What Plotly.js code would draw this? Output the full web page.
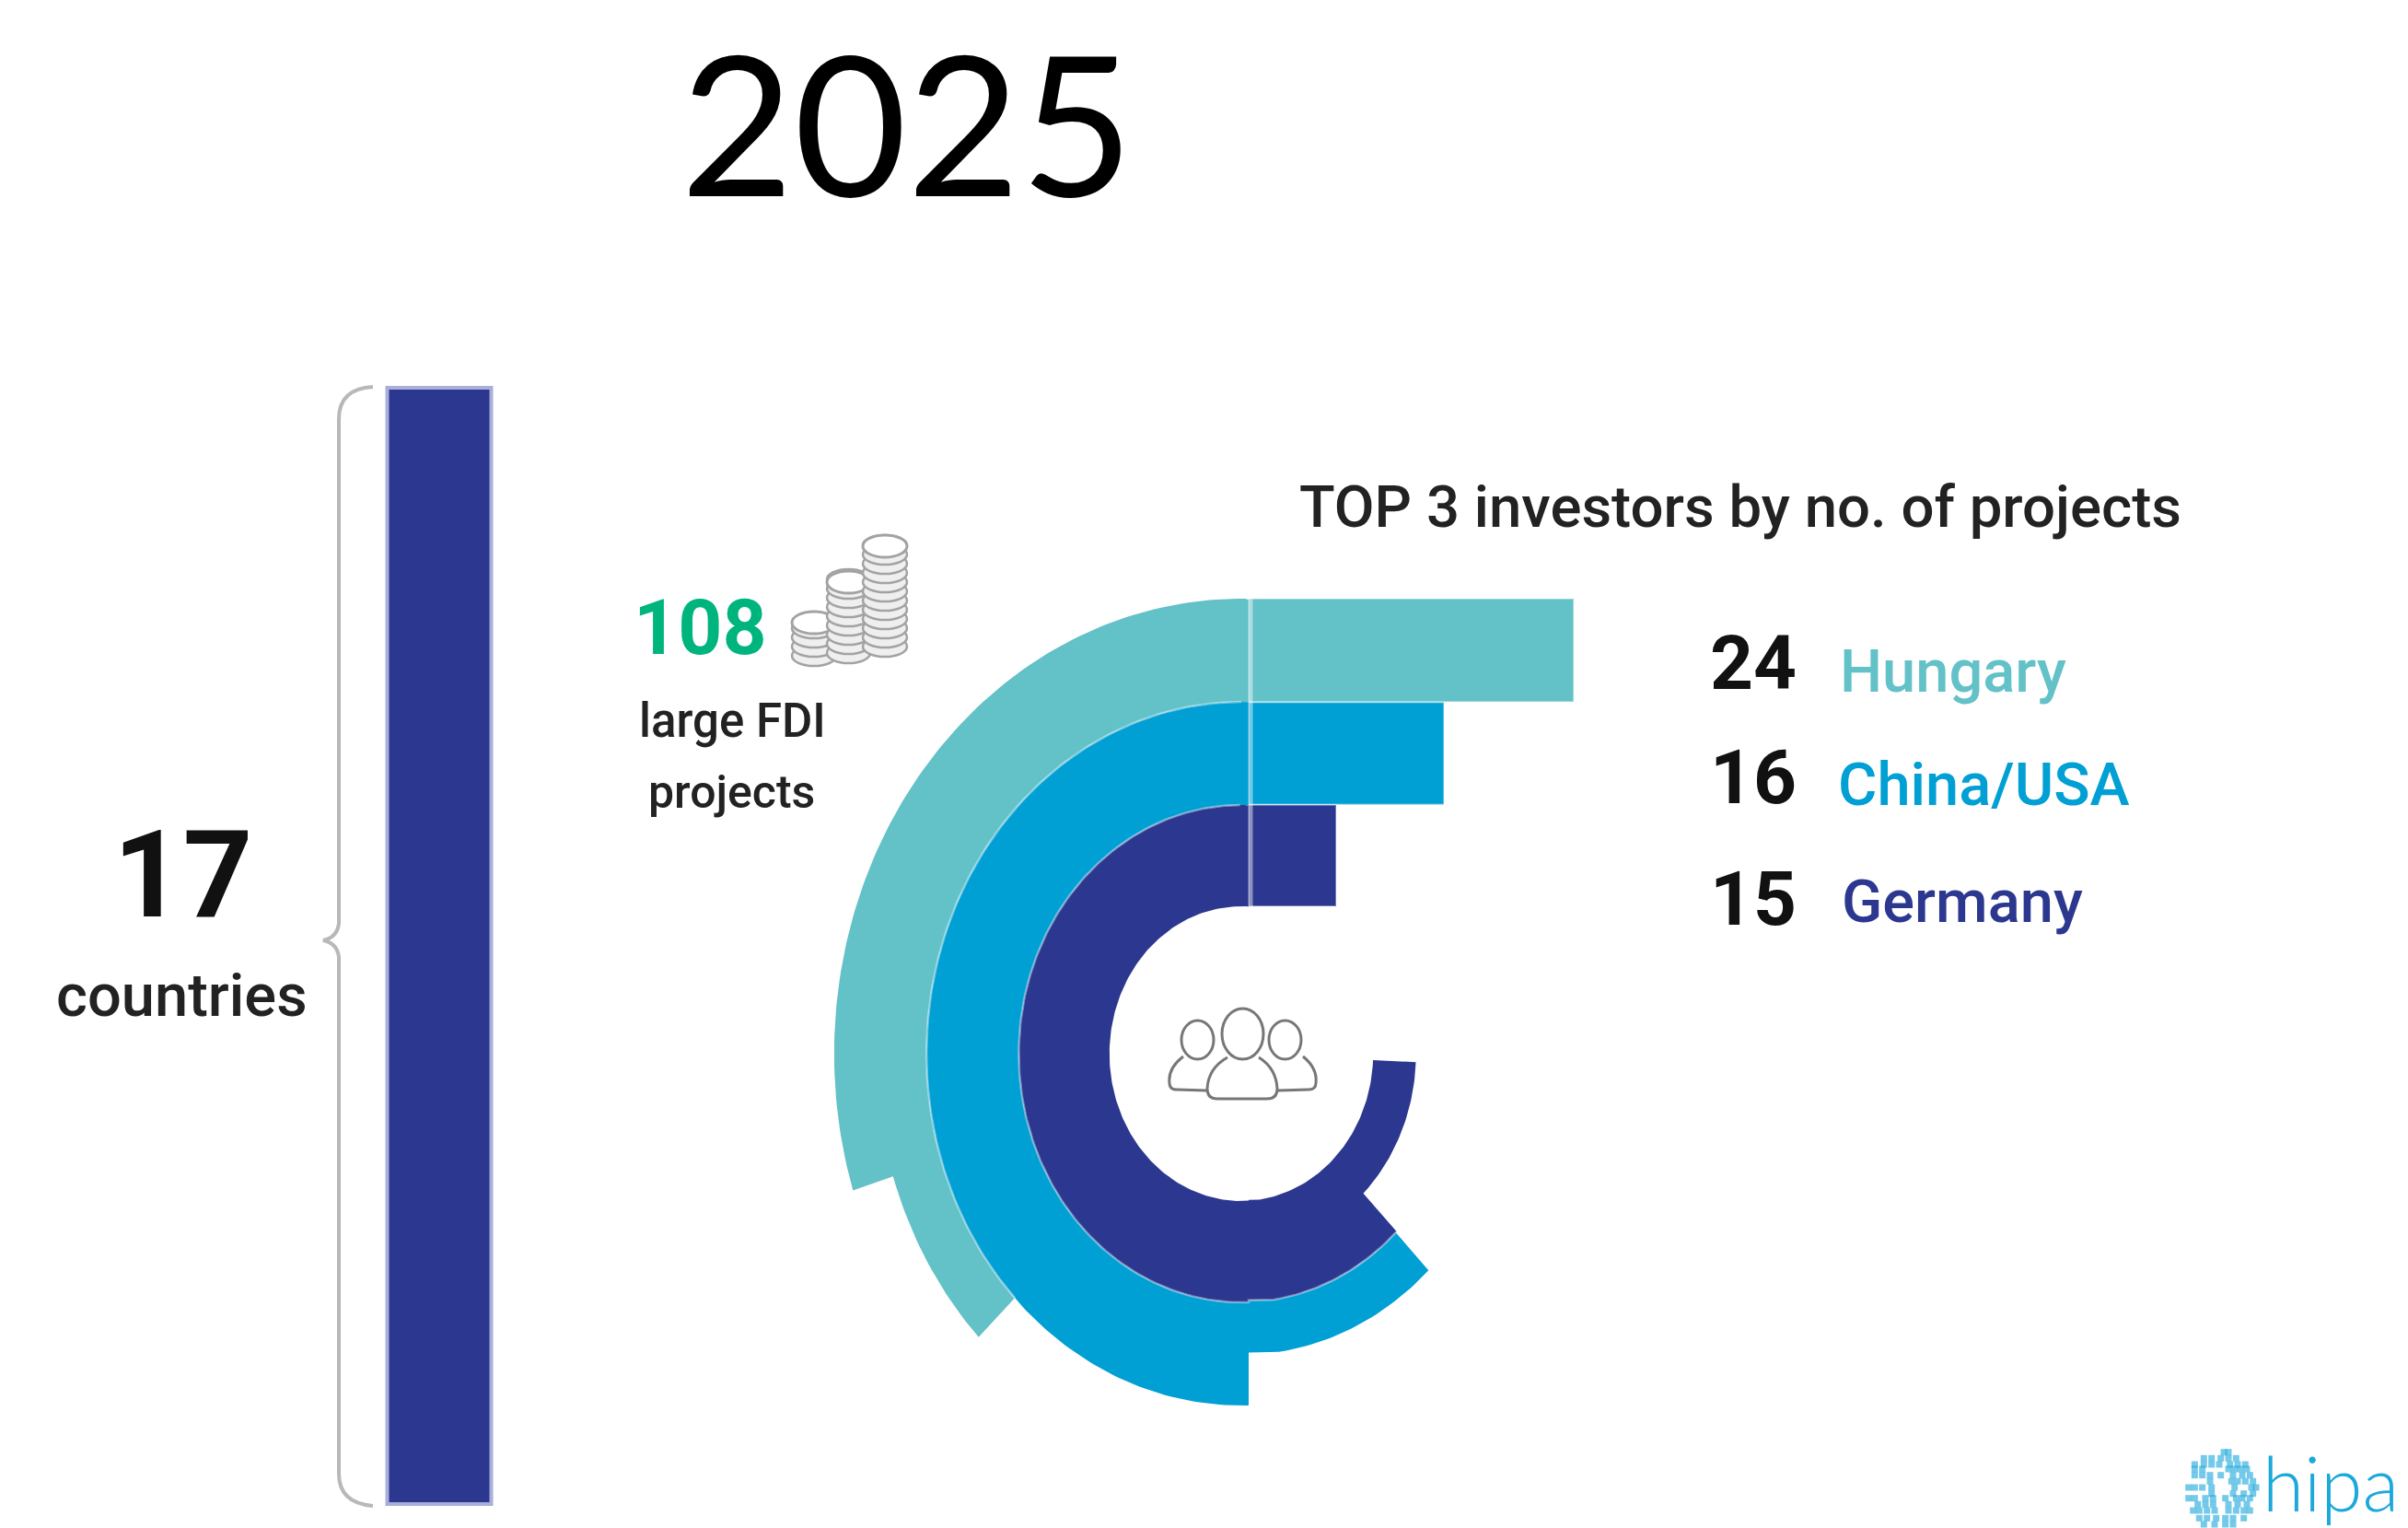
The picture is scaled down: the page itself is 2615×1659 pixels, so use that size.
<!DOCTYPE html>
<html>
<head>
<meta charset="utf-8">
<script src="https://cdn.plot.ly/plotly-3.0.1.min.js"></script>
<style>html,body{margin:0;padding:0;background:#fff}#chart{width:2615px;height:1659px}</style>
</head>
<body>
<div id="chart"></div>
<script>
// ---- Colours
const TEAL = '#63C1C8', BLUE = '#009FD4', NAVY = '#2C388F', GREEN = '#00B47E';

// ---- Left column bar (17 countries)
const countryBarCenter = [477];
const countryBarBase = [421];
const countryBarLength = [1212];
const countryBarWidth = 113;

// ---- Top horizontal bars, one per investor
const investors = ['Hungary', 'China/USA', 'Germany'];
const investorProjects = ['24', '16', '15'];
const investorColors = [TEAL, BLUE, NAVY];
const barLengths = [353, 212, 95];
const barCenters = [706, 818, 929];
const barThickness = [112, 111, 110];
const labelRowY = [720, 844, 976];
const nameRowY = [729, 852, 979];
const nameLeftX = [1996, 1994, 1998];

// ---- Ring segments (clockwise angle from the top, degrees; radius in axis units)
const segmentColor = [TEAL, TEAL, BLUE, BLUE, NAVY, NAVY];
const segmentStart = [226, 252.5, 136, 175, 92.5, 135.7];
const segmentEnd   = [253, 365, 180, 365, 136, 365];
const segmentInner = [382, 382, 270, 270, 160, 160];
const segmentOuter = [443, 494, 327, 382, 212, 270];
const ringCenter = [1348, 1144];
const ringSquash = 0.895;
const splitX = 1356;

// ---- Pale seams between rings: radius and start angle
const seamRadius = [382, 270];
const seamStart = [226, 135.7];

// ---- Icon and logo readings
const coinStackLeft = [860, 898, 937];
const coinStackRight = [908, 945, 985];
const coinStackTop = [664, 620, 581];
const coinStackBottom = [723, 720, 713];
const logoDotRowY = [80,100,120,135,155,175,195,215,230,250,270,295,315];
const logoDotRowX = [
  [225,240],[160,185,215,240,265],[130,160,185,210,245,270,295],[130,155,240,260,280,300],
  [130,155,180,215,255,285,310],[180,250,270,295,320],[110,130,155,185,260,315,330],
  [185,255,290,320],[110,130,165,190,230,265,285,310],[140,165,190,240,270,300],
  [125,145,170,195,240,265,290,310],[145,170,200,230,255,290],[160,195,230,255]
];

// ---- Build traces
function ringPoint(r, deg) {
  const a = deg * Math.PI / 180;
  let x = ringCenter[0] + ringSquash * r * Math.sin(a);
  if (deg > 172) x = Math.min(x, splitX);
  return [x, ringCenter[1] - r * Math.cos(a)];
}
function segmentOutline(i) {
  const xs = [], ys = [];
  const push = (r, deg) => { const p = ringPoint(r, deg); xs.push(p[0]); ys.push(p[1]); };
  for (let d = segmentStart[i]; d <= segmentEnd[i]; d += 1) push(segmentOuter[i], d);
  push(segmentOuter[i], segmentEnd[i]);
  push(segmentInner[i], segmentEnd[i]);
  for (let d = segmentEnd[i]; d >= segmentStart[i]; d -= 1) push(segmentInner[i], d);
  push(segmentInner[i], segmentStart[i]);
  xs.push(xs[0]); ys.push(ys[0]);
  return {x: xs, y: ys};
}

const traces = [];
traces.push({
  type: 'bar', orientation: 'v', x: countryBarCenter, y: countryBarLength, base: countryBarBase,
  width: countryBarWidth, marker: {color: NAVY, line: {color: '#A9AFDB', width: 4}}, hoverinfo: 'skip'
});
traces.push({
  type: 'bar', orientation: 'h', y: barCenters, x: barLengths, base: splitX, width: barThickness,
  marker: {color: investorColors, line: {color: 'rgba(255,255,255,0.35)', width: 2}}, hoverinfo: 'skip'
});
[0, 1, 2, 3, 4, 5].forEach(i => {
  const o = segmentOutline(i);
  traces.push({
    type: 'scatter', mode: 'lines', x: o.x, y: o.y, fill: 'toself', fillcolor: segmentColor[i],
    line: {width: 0, color: segmentColor[i]}, hoverinfo: 'skip'
  });
});
seamRadius.forEach((r, s) => {
  const xs = [], ys = [];
  for (let d = seamStart[s]; d <= 360; d += 1) { const p = ringPoint(r, d); xs.push(p[0]); ys.push(p[1]); }
  traces.push({type: 'scatter', mode: 'lines', x: xs, y: ys,
    line: {color: 'rgba(255,255,255,0.4)', width: 2.5}, hoverinfo: 'skip'});
});
traces.push({
  type: 'scatter', mode: 'lines', x: [1358, 1358], y: [650, 984],
  line: {color: 'rgba(255,255,255,0.45)', width: 5}, hoverinfo: 'skip'
});
const logoX = [], logoY = [];
logoDotRowY.forEach((ry, r) => logoDotRowX[r].forEach(rx => {
  logoX.push(2340 + rx / 3); logoY.push(1550 + ry / 3);
}));
traces.push({
  type: 'scatter', mode: 'markers', x: logoX, y: logoY,
  marker: {symbol: 'square', size: 7, color: '#1AA7DA', opacity: 0.6}, hoverinfo: 'skip'
});

// ---- Shapes for the decorative icons
const shapes = [];
const GREY = '#A3A3A3';
coinStackLeft.forEach((x0, s) => {
  const x1 = coinStackRight[s];
  for (let bot = coinStackBottom[s]; bot - 20 >= coinStackTop[s] - 0.5; bot -= 10) {
    shapes.push({type: 'circle', xref: 'x', yref: 'y', x0, x1, y0: bot - 22, y1: bot,
      fillcolor: '#EFEFEF', line: {color: GREY, width: 2.5}});
  }
  shapes.push({type: 'circle', xref: 'x', yref: 'y', x0, x1, y0: coinStackTop[s], y1: coinStackTop[s] + 24,
    fillcolor: '#FFFFFF', line: {color: GREY, width: 3}});
});
const PEOPLE = '#777777';
const person = p => shapes.push(Object.assign({xref: 'x', yref: 'y', line: {color: PEOPLE, width: 3}}, p));
person({type: 'circle', x0: 1283, x1: 1318, y0: 1108, y1: 1150});
person({type: 'circle', x0: 1378, x1: 1413, y0: 1108, y1: 1150});
person({type: 'path', path: 'M1285 1147 Q1268 1160 1270 1176 Q1270 1183 1278 1183 L1310 1184'});
person({type: 'path', path: 'M1415 1147 Q1431 1160 1429 1176 Q1429 1183 1421 1183 L1388 1184'});
person({type: 'circle', x0: 1327, x1: 1372, y0: 1095, y1: 1150});
person({type: 'path', path: 'M1333 1148 Q1312 1160 1311 1182 Q1311 1193 1322 1193 L1376 1193 Q1387 1193 1387 1182 Q1386 1160 1367 1148'});
shapes.push({type: 'path', xref: 'x', yref: 'y', line: {color: '#B8B8B8', width: 4},
  path: 'M405 420 Q368 422 368 455 L368 1003 Q366 1018 351 1021 Q366 1024 368 1039 L368 1600 Q368 1632 405 1635'});

// ---- Text
const ann = (text, x, y, size, color, opts) => Object.assign({
  text, x, y, xref: 'x', yref: 'y', showarrow: false, xanchor: 'center', yanchor: 'middle',
  font: {family: 'Roboto, sans-serif', size, color, weight: 500}
}, opts || {});
const bold = (size, color) => ({font: {family: 'Roboto, sans-serif', size, color, weight: 700}});
const annotations = [
  ann('2025', 985, 131, 212, '#000000', {font: {family: 'Lato, sans-serif', size: 212, color: '#000'}}),
  ann('17', 198, 950, 132, '#111', bold(132, '#111')),
  ann('countries', 197, 1081, 65, '#222'),
  ann('108', 760, 681, 84, GREEN, bold(84, GREEN)),
  ann('large FDI', 795, 782, 51, '#222'),
  ann('projects', 794, 860, 50, '#222'),
  ann('TOP 3 investors by no. of projects', 1890, 550, 63.5, '#222'),
  ann('hipa', 2531, 1609, 82, '#1BA8DB', {font: {family: 'Lato, sans-serif', size: 82, color: '#1BA8DB', weight: 300}})
];
investors.forEach((name, i) => {
  annotations.push(ann(investorProjects[i], 1904, labelRowY[i], 82, '#111', bold(82, '#111')));
  annotations.push(ann(name, nameLeftX[i], nameRowY[i], 65, investorColors[i], {xanchor: 'left'}));
});

const hidden = {visible: false, showgrid: false, zeroline: false, fixedrange: true};
Plotly.newPlot('chart', traces, {
  width: 2615, height: 1659,
  margin: {l: 0, r: 0, t: 0, b: 0, pad: 0},
  paper_bgcolor: '#fff', plot_bgcolor: '#fff', showlegend: false, barmode: 'overlay',
  xaxis: Object.assign({range: [0, 2615]}, hidden),
  yaxis: Object.assign({range: [1659, 0]}, hidden),
  shapes, annotations
}, {displayModeBar: false, staticPlot: true});
</script>
</body>
</html>
